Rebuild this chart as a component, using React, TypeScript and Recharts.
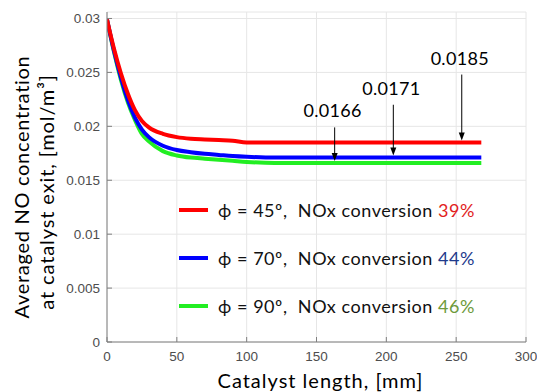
import React from 'react';
import { LineChart, Line, XAxis, YAxis, CartesianGrid, ReferenceLine, Legend, Label } from 'recharts';

// Averaged NO concentration at the catalyst exit versus catalyst length
const lengthMm = [0, 5, 10, 15, 20, 25, 30, 40, 50, 60, 70, 80, 90, 100, 120, 150, 200, 268];
const noPhi45 = [0.0299, 0.0272, 0.0249, 0.023, 0.0215, 0.0205, 0.0199, 0.0193, 0.019, 0.01885, 0.01878, 0.01872, 0.01866, 0.0185, 0.0185, 0.0185, 0.0185, 0.0185];
const noPhi70 = [0.0299, 0.027, 0.0245, 0.0224, 0.0208, 0.0197, 0.019, 0.0182, 0.0178, 0.0176, 0.01745, 0.01735, 0.01725, 0.01718, 0.0171, 0.0171, 0.0171, 0.0171];
const noPhi90 = [0.0299, 0.0269, 0.0243, 0.0222, 0.0206, 0.0193, 0.0186, 0.0177, 0.0173, 0.0171, 0.017, 0.0169, 0.0168, 0.0167, 0.0166, 0.0166, 0.0166, 0.0166];

const seriesNames = ['ϕ = 45º', 'ϕ = 70º', 'ϕ = 90º'];
const seriesColors = ['#ff0000', '#0000ff', '#22ee22'];
const conversions = ['39%', '44%', '46%'];
const conversionColors = ['#e21d1d', '#1f3b8c', '#6e9a3a'];

// exit concentrations called out with arrows
const exitValues = [0.0185, 0.0171, 0.0166];
const arrowAt = [254, 205, 163];
const arrowFrom = [0.0248, 0.022, 0.0199];

const xTicks = [0, 50, 100, 150, 200, 250, 300];
const yTicks = [0, 0.005, 0.01, 0.015, 0.02, 0.025, 0.03];

const data = lengthMm.map((x, i) => ({ x, p45: noPhi45[i], p70: noPhi70[i], p90: noPhi90[i] }));

const AXIS = '#7f7f7f';
const TICK_FONT = '"Liberation Sans", Arial, sans-serif';
const TEXT_FONT = 'Lato, "Open Sans", sans-serif';

const BottomTick = (p: any) => (
  <g>
    <line x1={p.x} y1={p.y} x2={p.x} y2={p.y - 5} stroke={AXIS} />
    <text x={p.x} y={p.y + 19} textAnchor="middle" fontFamily={TICK_FONT} fontSize={13.5} fill="#4d4d4d">
      {p.payload.value}
    </text>
  </g>
);

const LeftTick = (p: any) => (
  <g>
    <line x1={p.x} y1={p.y} x2={p.x + 5} y2={p.y} stroke={AXIS} />
    <text x={p.x - 7} y={p.y + 4.5} textAnchor="end" fontFamily={TICK_FONT} fontSize={13.5} fill="#4d4d4d">
      {p.payload.value}
    </text>
  </g>
);

const TopTick = (p: any) => <line x1={p.x} y1={p.y} x2={p.x} y2={p.y + 5} stroke={AXIS} />;
const RightTick = (p: any) => <line x1={p.x} y1={p.y} x2={p.x - 5} y2={p.y} stroke={AXIS} />;

const arrowShape = (text: string) => (p: any) => {
  const { x1, y1, x2, y2 } = p;
  const tipY = y2 - 2;
  const head = 8;
  return (
    <g>
      <line x1={x1} y1={y1} x2={x2} y2={tipY - head + 1} stroke="#000" strokeWidth={1} />
      <polygon points={`${x2},${tipY} ${x2 - 3},${tipY - head} ${x2 + 3},${tipY - head}`} fill="#000" />
      <text x={x1 - 2} y={y1 - 10} textAnchor="middle" fontFamily={TEXT_FONT} fontSize={18} letterSpacing={0.3} fill="#000">
        {text}
      </text>
    </g>
  );
};

const LegendBox = () => (
  <div style={{ fontFamily: TEXT_FONT, fontSize: 18, letterSpacing: 0.55, color: '#111' }}>
    {seriesNames.map((name, i) => (
      <div key={name} style={{ height: 48, display: 'flex', alignItems: 'center', whiteSpace: 'pre' }}>
        <span style={{ display: 'inline-block', width: 29, height: 4, background: seriesColors[i], marginRight: 10 }} />
        <span>{`${name},  NOx conversion `}</span>
        <span style={{ color: conversionColors[i] }}>{conversions[i]}</span>
      </div>
    ))}
  </div>
);

const YTitle = ({ viewBox }: any) => {
  const cy = viewBox.y + viewBox.height / 2;
  const l1x = viewBox.x + 22;
  const l2x = viewBox.x + 47;
  return (
    <g fontFamily={TEXT_FONT} fontSize={20} fill="#000">
      <text x={l1x} y={cy + 10} dy="0.35em" textAnchor="middle" letterSpacing={0.7} transform={`rotate(-90 ${l1x} ${cy + 10})`}>
        Averaged NO concentration
      </text>
      <text x={l2x} y={cy + 15} dy="0.35em" textAnchor="middle" letterSpacing={0.9} transform={`rotate(-90 ${l2x} ${cy + 15})`}>
        at catalyst exit, [mol/m³]
      </text>
    </g>
  );
};

const XTitle = ({ viewBox }: any) => (
  <text x={viewBox.x + viewBox.width / 2 + 4} y={viewBox.y + 46} textAnchor="middle" fontFamily={TEXT_FONT} fontSize={20} letterSpacing={1} fill="#000">
    Catalyst length, [mm]
  </text>
);

export default function App() {
  return (
    <div style={{ position: 'absolute', left: 0, top: 0, background: '#fff' }}>
      <LineChart width={537} height={392} data={data} margin={{ top: 12, right: 11, bottom: 0, left: 0 }}>
        <CartesianGrid stroke="#e6e6e6" />
        <XAxis dataKey="x" type="number" domain={[0, 300]} ticks={xTicks} interval={0} allowDataOverflow
          height={50} tickSize={0} tickMargin={0} tickLine={false} axisLine={{ stroke: AXIS }} tick={BottomTick}>
          <Label content={XTitle} />
        </XAxis>
        <XAxis xAxisId="top" orientation="top" dataKey="x" type="number" domain={[0, 300]} ticks={xTicks} interval={0} allowDataOverflow
          height={0} tickSize={0} tickMargin={0} tickLine={false} axisLine={{ stroke: AXIS }} tick={TopTick} />
        <YAxis type="number" domain={[0, 0.0306]} ticks={yTicks} interval={0} allowDataOverflow
          width={107} tickSize={0} tickMargin={0} tickLine={false} axisLine={{ stroke: AXIS }} tick={LeftTick}>
          <Label content={YTitle} />
        </YAxis>
        <YAxis yAxisId="right" orientation="right" type="number" domain={[0, 0.0306]} ticks={yTicks} interval={0} allowDataOverflow
          width={0} tickSize={0} tickMargin={0} tickLine={false} axisLine={{ stroke: AXIS }} tick={RightTick} />
        <Line dataKey="p90" name={seriesNames[2]} stroke={seriesColors[2]} strokeWidth={4} dot={false} type="monotone" isAnimationActive={false} />
        <Line dataKey="p70" name={seriesNames[1]} stroke={seriesColors[1]} strokeWidth={4} dot={false} type="monotone" isAnimationActive={false} />
        <Line dataKey="p45" name={seriesNames[0]} stroke={seriesColors[0]} strokeWidth={4} dot={false} type="monotone" isAnimationActive={false} />
        {exitValues.map((v, i) => (
          <ReferenceLine key={i} segment={[{ x: arrowAt[i], y: arrowFrom[i] }, { x: arrowAt[i], y: v }]} shape={arrowShape(String(v))} />
        ))}
        <Legend layout="horizontal" align="center" verticalAlign="middle" content={LegendBox}
          wrapperStyle={{ left: 179, top: 186, width: 340, height: 'auto' }} />
      </LineChart>
    </div>
  );
}
